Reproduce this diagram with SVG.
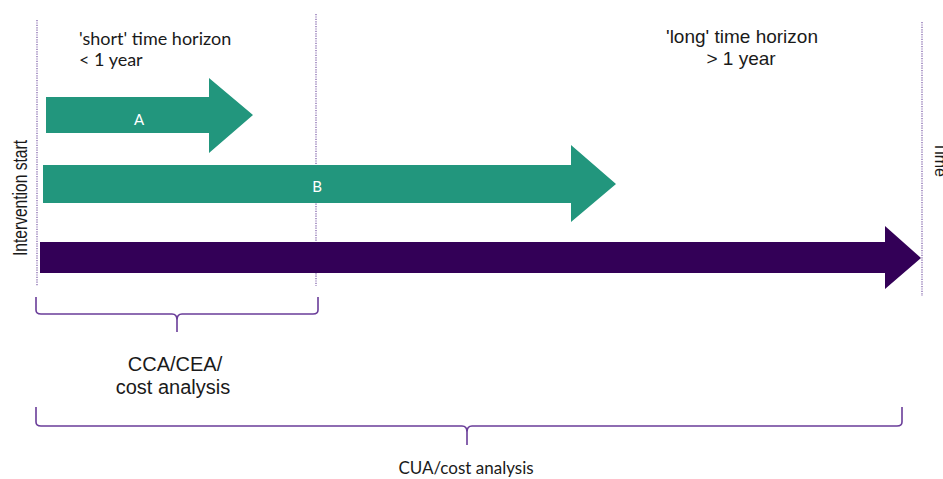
<svg xmlns="http://www.w3.org/2000/svg" width="943" height="479" viewBox="0 0 943 479">
<style>
.guide{stroke:#7a5aa6;stroke-width:1.2;stroke-dasharray:1.2 1.2;fill:none}
.brace{stroke:#6a3d99;stroke-width:1.6;fill:none}
.green{fill:#22967d}
.purple{fill:#330057}
.lbl{font-family:"Liberation Sans",Arial,sans-serif;fill:#1a1a1a}
.cal{font-family:Lato,"Open Sans",sans-serif;fill:#1a1a1a}
.wt{font-family:Lato,"Liberation Sans",sans-serif;fill:#ffffff;font-size:15px;text-anchor:middle}
</style>
<rect width="943" height="479" fill="#ffffff"/>
<g id="guides">
<line class="guide" x1="37" y1="20" x2="37" y2="286"/>
<line class="guide" x1="316" y1="14" x2="316" y2="286"/>
<line class="guide" x1="922" y1="22" x2="922" y2="296"/>
</g>
<g id="arrowA">
<polygon class="green" points="46,97 209,97 209,78 253,115 209,153 209,133 46,133"/>
<text class="wt" x="139" y="125">A</text>
</g>
<g id="arrowB">
<polygon class="green" points="43,165 571,165 571,145 616,184 571,222 571,203 43,203"/>
<text class="wt" x="317" y="192" font-size="16">B</text>
</g>
<g id="timeArrow">
<polygon class="purple" points="40,242 885,242 885,226 921,258 885,289 885,273 40,273"/>
</g>
<g id="labels">
<text class="cal" x="79" y="45" font-size="18">'short' time horizon</text>
<text class="cal" x="79" y="66" font-size="18">&lt; 1 year</text>
<text class="lbl" x="742" y="43" font-size="19" text-anchor="middle">'long' time horizon</text>
<text class="lbl" x="741" y="65" font-size="19" text-anchor="middle">&gt; 1 year</text>
<text class="lbl" transform="translate(27,256) rotate(-90)" font-size="20" textLength="116" lengthAdjust="spacingAndGlyphs">Intervention start</text>
<text class="lbl" transform="translate(935,142) rotate(90)" font-size="16">Time</text>
</g>
<g id="connectors">
<path class="brace" d="M36,297 L36,310 Q36,314 41,314 L172,314 Q177,314 177,320 L177,332 M177,320 Q177,314 182,314 L313,314 Q318,314 318,310 L318,297"/>
<path class="brace" d="M36,407 L36,422 Q36,426 41,426 L462,426 Q467,426 467,432 L467,445 M467,432 Q467,426 472,426 L897,426 Q902,426 902,422 L902,407"/>
</g>
<g id="braceLabels">
<text class="lbl" x="175" y="371" font-size="20" text-anchor="middle">CCA/CEA/</text>
<text class="lbl" x="173" y="394" font-size="20" text-anchor="middle">cost analysis</text>
<text class="cal" x="466" y="474" font-size="17" text-anchor="middle">CUA/cost analysis</text>
</g>
</svg>
